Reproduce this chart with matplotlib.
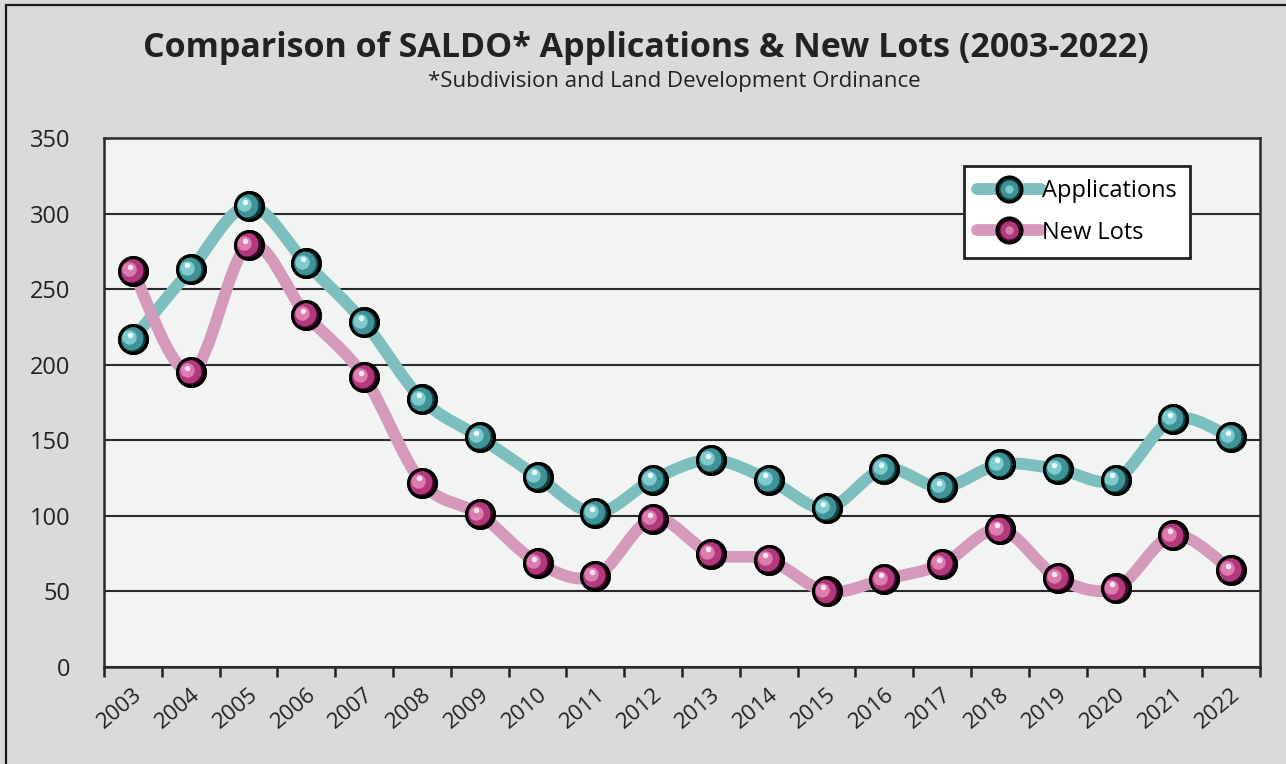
import numpy as np
import matplotlib
matplotlib.use('Agg')
import matplotlib.pyplot as plt
from matplotlib.path import Path
from matplotlib.patches import PathPatch, Rectangle
from matplotlib.transforms import offset_copy
from matplotlib.lines import Line2D
from matplotlib.legend_handler import HandlerTuple

years = [str(y) for y in range(2003, 2023)]
applications = [217, 263, 305, 267, 228, 177, 152, 126, 102, 124,
                137, 124, 105, 131, 119, 134, 131, 124, 164, 152]
new_lots = [262, 195, 279, 233, 192, 122, 101, 69, 60, 98,
            75, 71, 50, 58, 68, 91, 59, 52, 87, 64]

plt.rcParams['font.family'] = ['Open Sans', 'DejaVu Sans']

fig = plt.figure(figsize=(12.86, 7.64), dpi=100)
fig.patch.set_facecolor('#d9dadc')
ax = fig.add_axes([0.0809, 0.127, 0.8989, 0.6924])
ax.set_facecolor('#f2f3f3')


def smooth_path(x, y):
    # excel style smoothed line (cubic bezier through the points)
    n = len(x)
    verts = [(x[0], y[0])]
    codes = [Path.MOVETO]
    for i in range(n - 1):
        a = i - 1 if i > 0 else i
        b = i + 2 if i + 2 < n else i + 1
        c1 = (x[i] + (x[i + 1] - x[a]) / 6, y[i] + (y[i + 1] - y[a]) / 6)
        c2 = (x[i + 1] - (x[b] - x[i]) / 6, y[i + 1] - (y[b] - y[i]) / 6)
        verts += [c1, c2, (x[i + 1], y[i + 1])]
        codes += [Path.CURVE4] * 3
    return Path(verts, codes)


xs = np.arange(len(years))

series = [
    (applications, '#7dbfbf', ['#133c3e', '#3f9396', '#7fcacd', '#e6fbfb']),
    (new_lots, '#d59abb', ['#3e0a27', '#b23a7c', '#dc7db0', '#fbe3f0']),
]

# sphere layers: (size factor, dx, dy)
layers = [(0.86, -1.6, 0.6), (0.52, -3.0, 1.3), (0.20, -2.4, 3.0)]

ms = 20
for vals, lc, shades in series:
    ax.add_patch(PathPatch(smooth_path(xs, np.array(vals, float)), fill=False,
                           edgecolor=lc, lw=8.5, capstyle='round', zorder=3))
    ax.plot(xs, vals, 'o', ms=ms, mfc=shades[0], mec='black', mew=2.2, zorder=4)
    for k, (f, dx, dy) in enumerate(layers):
        tr = offset_copy(ax.transData, fig=fig, x=dx, y=dy, units='points')
        ax.plot(xs, vals, 'o', ms=ms * f, mfc=shades[k + 1], mew=0,
                zorder=5 + k, transform=tr)
    # redraw the outline on top so the highlights stay inside
    ax.plot(xs, vals, 'o', ms=ms, mfc='none', mec='black', mew=2.2, zorder=9)

ax.set_xlim(-0.5, len(years) - 0.5)
ax.set_ylim(0, 350)
ax.set_yticks(range(0, 351, 50))
ax.yaxis.grid(True, color='#2a2a2a', lw=1.5)
ax.set_axisbelow(True)
ax.tick_params(axis='y', length=0, pad=24, labelsize=17, labelcolor='#222222')

ax.set_xticks(np.arange(-0.5, len(years)), minor=False)
ax.set_xticklabels([])
ax.set_xticks(xs, minor=True)
ax.set_xticklabels(years, minor=True, rotation=40, ha='right',
                   rotation_mode='anchor', fontsize=16, color='#222222')
ax.tick_params(axis='x', which='major', length=7, width=1.8, color='#222222', direction='out')
ax.tick_params(axis='x', which='minor', length=0, pad=12)

for s in ax.spines.values():
    s.set_color('#2a2a2a')
    s.set_linewidth(1.8)

handles = []
for vals, lc, shades in series:
    handles.append((Line2D([], [], color=lc, lw=8.5, solid_capstyle='round'),
                    Line2D([], [], ls='', marker='o', ms=ms * 0.9, mfc=shades[0], mec='black', mew=2.2),
                    Line2D([], [], ls='', marker='o', ms=ms * 0.65, mfc=shades[1], mew=0),
                    Line2D([], [], ls='', marker='o', ms=ms * 0.3, mfc=shades[2], mew=0)))
leg = ax.legend(handles, ['Applications', 'New Lots'], loc='upper left',
                bbox_to_anchor=(0.744, 0.947), borderaxespad=0, fontsize=17,
                handler_map={tuple: HandlerTuple(ndivide=1)},
                fancybox=False, framealpha=1, edgecolor='#222222',
                handlelength=2.7, handletextpad=0.05, labelspacing=0.75,
                borderpad=0.55)
leg.get_frame().set_linewidth(2)
leg.set_zorder(10)

fig.text(0.502, 0.937, 'Comparison of SALDO* Applications & New Lots (2003-2022)',
         ha='center', va='center', fontsize=24.5, fontweight='bold', color='#222222')
fig.text(0.524, 0.893, '*Subdivision and Land Development Ordinance',
         ha='center', va='center', fontsize=16, color='#222222')

fig.add_artist(Rectangle((0.0043, -0.1), 1.2, 1.094, transform=fig.transFigure,
                         fill=False, edgecolor='#1a1a1a', lw=1.6))

fig.savefig('out.png', dpi=100, facecolor=fig.get_facecolor())
